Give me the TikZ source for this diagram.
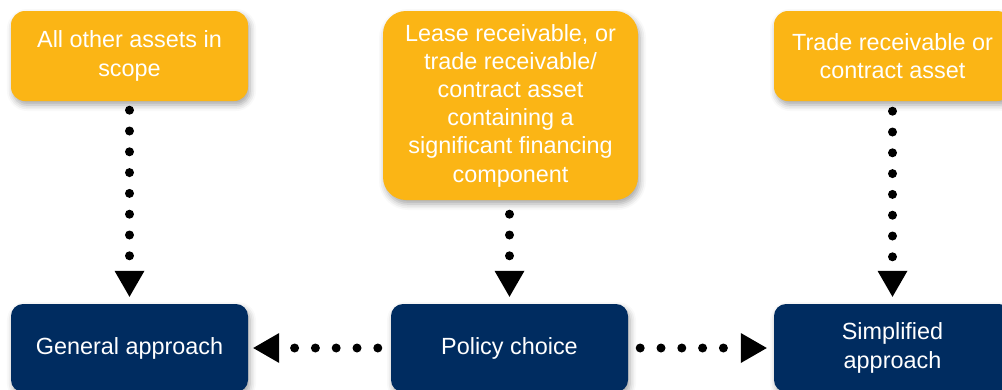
\documentclass[tikz,border=0pt]{standalone}
\usepackage{fontspec}
\setmainfont{Liberation Sans}
\usetikzlibrary{arrows.meta,shadows.blur}
\definecolor{boxorange}{RGB}{251,181,21}
\definecolor{boxnavy}{RGB}{0,44,96}
\tikzset{
  basebox/.style={draw=none, text=white, align=center, inner sep=0pt,
    font=\fontsize{23.4pt}{28.2pt}\selectfont,
    blur shadow={shadow xshift=2pt, shadow yshift=-4pt, shadow blur radius=6pt, shadow opacity=35}},
  srcbox/.style={basebox, fill=boxorange, minimum width=237pt, minimum height=90pt, rounded corners=14pt},
  bigbox/.style={basebox, fill=boxorange, minimum width=255pt, minimum height=189pt, rounded corners=23pt},
  appbox/.style={basebox, fill=boxnavy, minimum width=237pt, minimum height=88pt, rounded corners=12pt},
  dotconn/.style={line width=9pt, line cap=round, dash pattern=on 0pt off 20.8pt,
    -{Triangle[length=26pt,width=30pt,line width=0pt]}},
}
\begin{document}
\begin{tikzpicture}[x=1pt,y=1pt]
\useasboundingbox (0,0) rectangle (1002,-389);
\clip (0,0) rectangle (1002,-389);
\node[srcbox] (other) at (129.5,-56) {All other assets in\\scope};
\node[bigbox] (lease) at (510.5,-105.5) {Lease receivable, or\\trade receivable/\\contract asset\\containing a\\significant financing\\component};
\node[srcbox] (trade) at (892.5,-56) {Trade receivable or\\contract asset};
\node[appbox] (general) at (129.5,-348) {General approach};
\node[appbox] (policy) at (509.5,-348) {Policy choice};
\node[appbox] (simple) at (892.5,-348) {Simplified\\approach};
\draw[dotconn, shorten <=9pt, shorten >=7pt] (other.south) -- (other.south |- general.north);
\draw[dotconn, shorten <=14pt, shorten >=7pt] (lease.south -| policy.north) -- (policy.north);
\draw[dotconn, shorten <=10pt, shorten >=7pt] (trade.south) -- (trade.south |- simple.north);
\draw[dotconn, shorten <=13pt, shorten >=5pt] (policy.west) -- (general.east);
\draw[dotconn, shorten <=12pt, shorten >=7pt] (policy.east) -- (simple.west);
\end{tikzpicture}
\end{document}
